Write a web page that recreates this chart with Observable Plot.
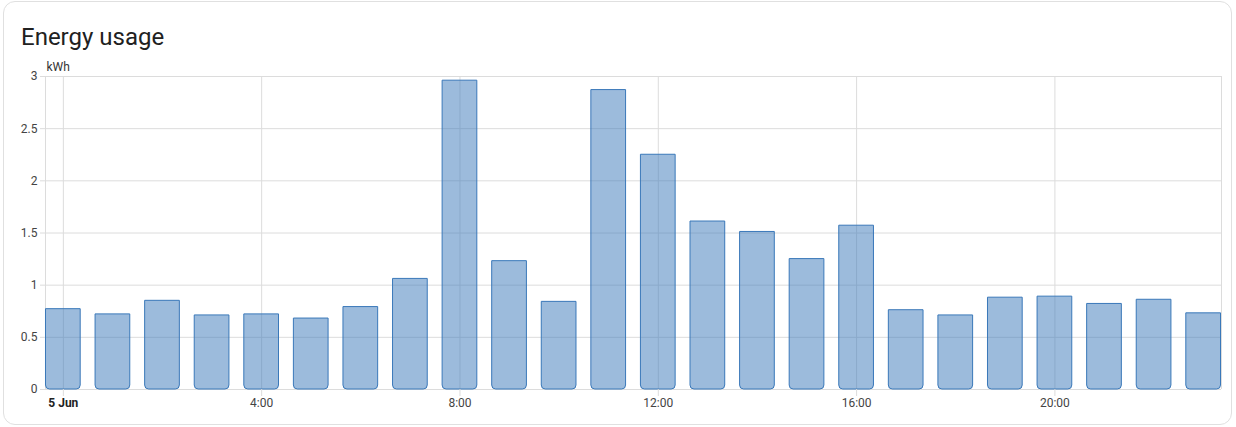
<!DOCTYPE html>
<html>
<head>
<meta charset="utf-8">
<script src="https://cdn.jsdelivr.net/npm/d3@7"></script>
<script src="https://cdn.jsdelivr.net/npm/@observablehq/plot@0.6"></script>
<style>
  html, body { margin: 0; padding: 0; background: #fff; width: 1236px; height: 427px; overflow: hidden; font-family: Roboto, sans-serif; }
  #card { position: absolute; left: 3px; top: 1px; width: 1229px; height: 424px; border: 1px solid #e0e0e0; border-radius: 12px; box-sizing: border-box; }
  #title { position: absolute; left: 21px; top: 21px; font-size: 24px; color: #212121; font-family: Roboto, sans-serif; font-weight: 400; line-height: 32px; }
  #chart { position: absolute; left: 0; top: 56px; }
</style>
</head>
<body>
<div id="card"></div>
<div id="title">Energy usage</div>
<div id="chart"></div>
<script>
const hours = [0,1,2,3,4,5,6,7,8,9,10,11,12,13,14,15,16,17,18,19,20,21,22,23];
const usage = [0.77,0.72,0.85,0.71,0.72,0.68,0.79,1.06,2.96,1.23,0.84,2.87,2.25,1.61,1.51,1.25,1.57,0.76,0.71,0.88,0.89,0.82,0.86,0.73];
const yTicks = [0,0.5,1,1.5,2,2.5,3];
const xTicks = [4,8,12,16,20];
const xTickLabels = ["4:00","8:00","12:00","16:00","20:00"];
const dayLabel = "5 Jun";
const unit = "kWh";

const data = hours.map((h, i) => ({h, v: usage[i]}));
const base = "#3a78b9";
const grid = "#dcdcdc";

const chart = Plot.plot({
  width: 1236,
  height: 371,
  marginTop: 20,
  marginBottom: 38,
  marginLeft: 45,
  marginRight: 15,
  style: {fontFamily: "Roboto, sans-serif", fontSize: "12px", color: "#444"},
  x: {type: "linear", domain: [-0.36, 23.36]},
  y: {domain: [0, 3]},
  marks: [
    Plot.gridY(yTicks, {stroke: grid, strokeOpacity: 1}),
    Plot.gridX([0, ...xTicks], {stroke: grid, strokeOpacity: 1}),
    Plot.ruleX([-0.36, 23.36], {stroke: grid}),
    Plot.rectY(data, {x1: d => d.h - 0.35, x2: d => d.h + 0.35, y: "v", fill: base, fillOpacity: 0.5, stroke: base, strokeWidth: 1, ry1: 4}),
    Plot.axisY(yTicks, {tickFormat: d => String(d), tickSize: 5, tickPadding: 3, stroke: grid, label: null, fill: "#444"}),
    Plot.axisX(xTicks, {tickFormat: (d) => xTickLabels[xTicks.indexOf(d)], tickSize: 7, tickPadding: 2, stroke: grid, label: null, fill: "#444"}),
    Plot.axisX([0], {tickFormat: () => dayLabel, tickSize: 7, tickPadding: 2, stroke: grid, label: null, fontWeight: "bold", fill: "#222"}),
    Plot.text([unit], {frameAnchor: "top-left", lineAnchor: "middle", dx: 1, dy: -9, textAnchor: "start", fontSize: 12, fill: "#333"})
  ]
});
document.getElementById("chart").appendChild(chart);
</script>
</body>
</html>
